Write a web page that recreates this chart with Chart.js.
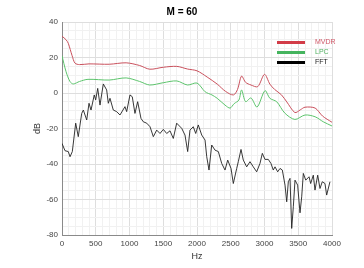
<!DOCTYPE html>
<html>
<head>
<meta charset="utf-8">
<script src="https://cdn.jsdelivr.net/npm/chart.js@4.4.1/dist/chart.umd.min.js"></script>
<style>
  html, body { margin: 0; padding: 0; background: #fff; }
  #wrap { width: 364px; height: 268px; }
</style>
</head>
<body>
<div id="wrap"><canvas id="spec"></canvas></div>
<script>
// ============================
// Data (Hz / dB)
// ============================
const mvdrHz = [0, 60, 93, 150, 193, 260, 400, 700, 950, 1150, 1300, 1500, 1700, 1860, 2000, 2150, 2300, 2420, 2540, 2600, 2660, 2720, 2800, 2900, 3000, 3080, 3150, 3250, 3330, 3450, 3530, 3600, 3750, 3860, 4000];
const mvdrDb = [32, 30, 28, 21, 16.8, 16, 16.4, 16.2, 17, 15.5, 13.4, 14.5, 15, 13.5, 12.5, 9, 5, 1, -1.1, 2, 9.5, 6, 4.5, 3.6, 10.5, 5, 2, -1, -5, -11, -9.5, -8, -8.5, -13, -16.5];

const lpcHz = [0, 60, 119, 167, 260, 385, 700, 950, 1150, 1300, 1500, 1700, 1860, 2000, 2120, 2222, 2300, 2415, 2490, 2550, 2620, 2660, 2720, 2800, 2890, 3007, 3080, 3180, 3300, 3450, 3600, 3750, 3870, 4000];
const lpcDb = [21, 12, 6.4, 5.1, 6.5, 7.7, 7.3, 8.5, 6.5, 4.5, 5.8, 6.8, 4.5, 5.6, 0.7, -1.1, -3, -6.8, -8.5, -6, -4, 1.7, -4.9, -2.8, -7.9, 1.3, -3, -4.9, -11.3, -14.9, -12.4, -13.4, -16.2, -18.6];

const fftHz = [0, 44, 93, 119, 153, 203, 241, 292, 316, 366, 400, 430, 478, 499, 529, 563, 612, 662, 686, 711, 760, 810, 859, 933, 958, 1007, 1041, 1081, 1121, 1170, 1204, 1255, 1304, 1353, 1403, 1452, 1501, 1551, 1600, 1649, 1699, 1773, 1822, 1862, 1896, 1945, 1981, 2019, 2070, 2119, 2144, 2178, 2218, 2267, 2316, 2366, 2415, 2455, 2504, 2538, 2588, 2612, 2652, 2686, 2736, 2785, 2834, 2884, 2933, 2968, 3007, 3056, 3096, 3130, 3156, 3195, 3230, 3264, 3304, 3329, 3353, 3378, 3403, 3427, 3452, 3491, 3526, 3551, 3575, 3611, 3660, 3684, 3723, 3748, 3788, 3822, 3856, 3896, 3921, 3970];
const fftDb = [-28.4, -32.5, -33, -35.9, -33, -17, -24.6, -11.5, -9.6, -15.2, -5.8, -9.6, -1.1, -3.9, 2.6, -6.8, 5.1, 1.7, -5.8, -3, -9.6, -10.5, -12.4, -7.7, -10.5, -1.1, -2.1, -11.5, -4.9, -14.3, -16.2, -17, -19, -24.6, -20.9, -22.8, -20.5, -22.8, -21.3, -25.6, -17, -19.9, -23.7, -33, -20.9, -19, -22.8, -18, -23.7, -26.5, -35.9, -43.4, -29.3, -32.2, -33, -39.7, -43.4, -37.8, -42.5, -51, -42.5, -38.7, -31.8, -37.8, -41.6, -38.7, -41.6, -44.4, -39.7, -34, -37.4, -37.4, -39.7, -43.4, -41.6, -44.4, -42.5, -43.4, -51.9, -61.3, -50, -48.1, -76.3, -64.1, -49.1, -51.9, -67.5, -58.5, -45.3, -49.1, -47.2, -51, -46.3, -54.7, -46.3, -53.8, -50, -51, -57.5, -50];

const xTicks = [0, 500, 1000, 1500, 2000, 2500, 3000, 3500, 4000];
const yTicks = [-80, -60, -40, -20, 0, 20, 40];

const seriesNames = ["MVDR", "LPC", "FFT"];
const seriesColors = ["#c9505c", "#5cc46c", "#222222"];
const legendColors = ["#d23c48", "#45b45e", "#000000"];
const legendTextColors = ["#d05868", "#50b060", "#222222"];

const FONT = "'Liberation Sans', Arial, Helvetica, sans-serif";

function toPoints(xs, ys) {
    return xs.map((x, i) => ({ x: x, y: ys[i] }));
}

// ============================
// Legend drawn inside the plot, top right
// ============================
const insideLegend = {
    id: "insideLegend",
    afterDatasetsDraw(chart) {
        const ctx = chart.ctx;
        const area = chart.chartArea;
        const x0 = area.right - 55;
        const x1 = area.right - 27;
        const tx = area.right - 17;
        ctx.save();
        ctx.font = "7px " + FONT;
        ctx.textBaseline = "middle";
        chart.data.datasets.forEach((ds, i) => {
            const y = area.top + 20.5 + i * 10;
            ctx.strokeStyle = legendColors[i];
            ctx.lineWidth = 3;
            ctx.beginPath();
            ctx.moveTo(x0, y);
            ctx.lineTo(x1, y);
            ctx.stroke();
            ctx.fillStyle = legendTextColors[i];
            ctx.fillText(ds.label, tx, y);
        });
        ctx.restore();
    }
};

const ctx = document.getElementById("spec").getContext("2d");

new Chart(ctx, {
    type: "line",
    data: {
        datasets: [
            { label: seriesNames[0], data: toPoints(mvdrHz, mvdrDb), borderColor: seriesColors[0], borderWidth: 1, pointRadius: 0, tension: 0.3, fill: false },
            { label: seriesNames[1], data: toPoints(lpcHz, lpcDb), borderColor: seriesColors[1], borderWidth: 1, pointRadius: 0, tension: 0.3, fill: false },
            { label: seriesNames[2], data: toPoints(fftHz, fftDb), borderColor: seriesColors[2], borderWidth: 0.9, pointRadius: 0, tension: 0, fill: false }
        ]
    },
    options: {
        responsive: true,
        maintainAspectRatio: false,
        animation: false,
        layout: { padding: { left: 32, right: 32, top: 0, bottom: 0 } },
        plugins: {
            legend: { display: false },
            tooltip: { enabled: false },
            title: {
                display: true,
                text: "M = 60",
                color: "#000",
                font: { family: FONT, size: 10, weight: "bold" },
                padding: { top: 6, bottom: 4 }
            }
        },
        scales: {
            x: {
                type: "linear",
                min: 0,
                max: 4000,
                afterFit: s => { s.height = 33; },
                afterBuildTicks: s => {
                    const t = [];
                    for (let v = 0; v <= 4000; v += 100) t.push({ value: v });
                    s.ticks = t;
                },
                ticks: {
                    autoSkip: false,
                    maxRotation: 0,
                    padding: 4,
                    color: "#444",
                    font: { family: FONT, size: 8 },
                    callback: v => (xTicks.includes(v) ? String(v) : "")
                },
                grid: {
                    drawTicks: false,
                    color: c => (xTicks.includes(c.tick.value) ? "#dedede" : "#f1f1f1"),
                    lineWidth: 1
                },
                border: { color: "#8a8a8a", width: 1 },
                title: {
                    display: true,
                    text: "Hz",
                    color: "#333",
                    font: { family: FONT, size: 9 },
                    padding: { top: 0, bottom: 6 }
                }
            },
            y: {
                min: -80,
                max: 40,
                afterFit: s => { s.width = 30; },
                afterBuildTicks: s => {
                    const t = [];
                    for (let v = -80; v <= 40; v += 5) t.push({ value: v });
                    s.ticks = t;
                },
                ticks: {
                    autoSkip: false,
                    padding: 4,
                    color: "#444",
                    font: { family: FONT, size: 8 },
                    callback: v => (yTicks.includes(v) ? String(v) : "")
                },
                grid: {
                    drawTicks: false,
                    color: c => (yTicks.includes(c.tick.value) ? "#dedede" : "#f1f1f1"),
                    lineWidth: 1
                },
                border: { color: "#8a8a8a", width: 1 },
                title: {
                    display: true,
                    text: "dB",
                    color: "#333",
                    font: { family: FONT, size: 9 },
                    padding: { top: 0, bottom: 0 }
                }
            }
        }
    },
    plugins: [insideLegend]
});
</script>
</body>
</html>
